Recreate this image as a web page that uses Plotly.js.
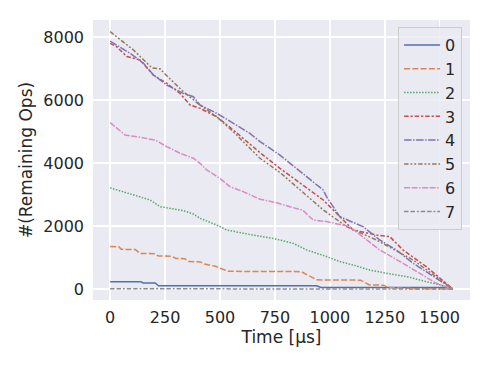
<!DOCTYPE html>
<html>
<head>
<meta charset="utf-8">
<script src="https://cdn.plot.ly/plotly-3.0.1.min.js"></script>
<style>body{margin:0;background:#fff}</style>
</head>
<body>
<div id="chart" style="width:490px;height:368px"></div>
<script>
// remaining ops over time, one pair of arrays per series
var t0 = [0, 140, 150, 205, 220, 940, 960, 1545, 1560];
var y0 = [232, 232, 190, 190, 100, 100, 50, 50, 0];

var t1 = [0, 40, 50, 115, 135, 200, 220, 280, 300, 340, 360, 410, 430, 480, 500, 520, 540, 870, 940, 1140, 1180, 1245, 1265, 1380, 1560];
var y1 = [1350, 1340, 1260, 1250, 1130, 1120, 1050, 1040, 970, 960, 870, 860, 790, 720, 660, 620, 560, 550, 290, 280, 130, 120, 50, 10, 0];

var t2 = [0, 45, 106, 182, 227, 333, 379, 409, 485, 530, 606, 682, 758, 833, 894, 985, 1045, 1106, 1182, 1258, 1364, 1439, 1500, 1560];
var y2 = [3210, 3110, 2985, 2825, 2615, 2490, 2380, 2245, 2030, 1875, 1770, 1685, 1580, 1450, 1240, 1030, 870, 760, 600, 500, 370, 230, 130, 0];

var t3 = [0, 30, 76, 136, 197, 258, 318, 364, 409, 485, 560, 682, 773, 970, 1106, 1212, 1273, 1333, 1439, 1560];
var y3 = [7800, 7690, 7380, 7270, 6790, 6530, 6210, 5840, 5735, 5470, 5050, 4330, 3830, 2825, 1873, 1714, 1661, 1238, 709, 0];

var t4 = [0, 91, 152, 197, 258, 333, 379, 409, 485, 560, 636, 682, 773, 970, 985, 1045, 1151, 1227, 1303, 1379, 1560];
var y4 = [7870, 7480, 7165, 6795, 6475, 6210, 6105, 5840, 5580, 5260, 4940, 4680, 4250, 3140, 2930, 2300, 1978, 1556, 1238, 815, 0];

var t5 = [0, 106, 190, 227, 258, 333, 409, 485, 560, 682, 773, 970, 1076, 1212, 1379, 1560];
var y5 = [8170, 7590, 7020, 6990, 6770, 6265, 5840, 5470, 4995, 4150, 3700, 2510, 1980, 1556, 921, 0];

var t6 = [0, 68, 136, 205, 258, 318, 379, 409, 439, 500, 545, 606, 682, 758, 818, 877, 924, 985, 1090, 1167, 1227, 1333, 1409, 1485, 1560];
var y6 = [5280, 4890, 4815, 4730, 4520, 4310, 4150, 3990, 3780, 3510, 3250, 3090, 2850, 2740, 2610, 2500, 2190, 2140, 1980, 1560, 1240, 815, 500, 180, 0];

var t7 = [0, 1560];
var y7 = [5, 0];

var names = ['0', '1', '2', '3', '4', '5', '6', '7'];
var colors = ['#4C72B0', '#DD8452', '#55A868', '#C44E52', '#8172B3', '#937860', '#DA8BC3', '#8C8C8C'];
var dashes = [
  'solid',
  '6px,2.25px',
  '1.5px,1.5px',
  '4.5px,1.9px,2.25px,1.9px',
  '7.5px,1.5px,1.5px,1.5px',
  '4.5px,1.9px,1.9px,1.9px,1.9px,1.9px',
  '6px,1.5px,6px,1.5px,1.5px,1.5px',
  '4.5px,1.9px,4.5px,1.9px,1.9px,1.9px'
];

var xs = [t0, t1, t2, t3, t4, t5, t6, t7];
var ys = [y0, y1, y2, y3, y4, y5, y6, y7];

var data = [];
for (var i = 0; i < names.length; i++) {
  data.push({
    x: xs[i],
    y: ys[i],
    mode: 'lines',
    name: names[i],
    line: {color: colors[i], width: 1.5, dash: dashes[i]}
  });
}

var txt = '#262626';
var layout = {
  width: 490,
  height: 368,
  margin: {l: 93, r: 20, t: 20, b: 68},
  paper_bgcolor: '#ffffff',
  plot_bgcolor: '#EAEAF2',
  font: {family: 'DejaVu Sans', size: 16, color: txt},
  showlegend: true,
  xaxis: {
    range: [-78, 1638],
    tickvals: [0, 250, 500, 750, 1000, 1250, 1500],
    showgrid: true,
    gridcolor: '#ffffff',
    gridwidth: 1.5,
    zeroline: false,
    showline: false,
    ticks: '',
    ticklabelstandoff: 6,
    tickfont: {size: 16, color: txt},
    title: {text: 'Time [µs]', font: {size: 17, color: txt}, standoff: 4}
  },
  yaxis: {
    range: [-350, 8540],
    tickvals: [0, 2000, 4000, 6000, 8000],
    showgrid: true,
    gridcolor: '#ffffff',
    gridwidth: 1.5,
    zeroline: false,
    showline: false,
    ticks: '',
    ticklabelstandoff: 8,
    tickfont: {size: 16, color: txt},
    title: {text: '#(Remaining Ops)', font: {size: 17, color: txt}, standoff: 6}
  },
  legend: {
    x: 0.979,
    y: 0.975,
    xanchor: 'right',
    yanchor: 'top',
    bgcolor: 'rgba(234,234,242,0.8)',
    bordercolor: '#CCCCCC',
    borderwidth: 1,
    itemwidth: 36,
    font: {size: 16, color: txt}
  }
};

Plotly.newPlot('chart', data, layout, {displayModeBar: false, staticPlot: true});
</script>
</body>
</html>
